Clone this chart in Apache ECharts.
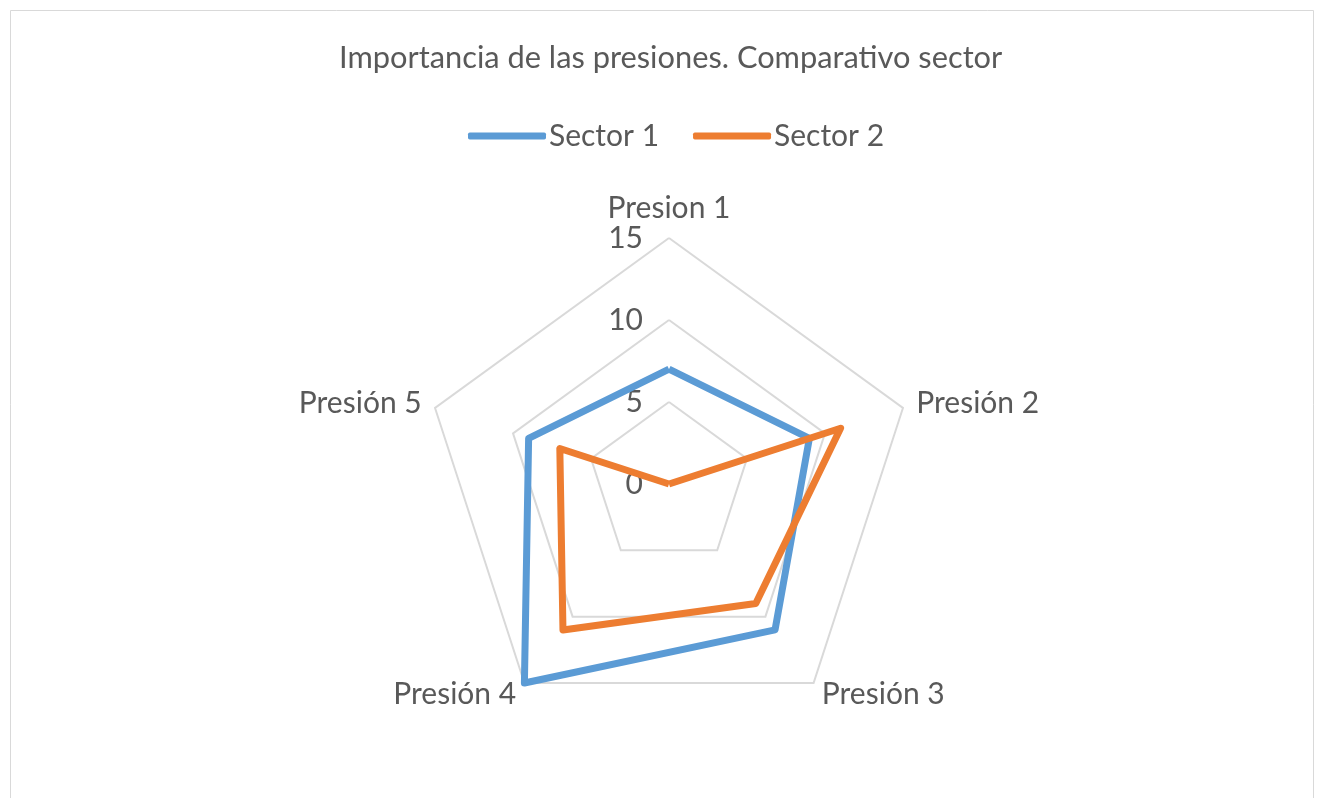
<!DOCTYPE html>
<html>
<head>
<meta charset="utf-8">
<script src="https://cdn.jsdelivr.net/npm/echarts@6/dist/echarts.min.js"></script>
<style>
  html, body { margin: 0; padding: 0; background: #fff; }
  #chart { width: 1318px; height: 798px; }
</style>
</head>
<body>
<div id="chart"></div>
<script>
// Pressure categories and importance scores per sector
const indicators = ['Presion 1', 'Presión 2', 'Presión 3', 'Presión 4', 'Presión 5'];
const sector1 = [7, 9, 11, 15, 9];
const sector2 = [0, 11, 9, 11, 7];
const seriesNames = ['Sector 1', 'Sector 2'];
const axisMax = 15;

// ECharts lays radar axes out counter-clockwise; walk the categories in
// reverse (after the first) so they run clockwise from the top.
const order = [0, 4, 3, 2, 1];
const pick = arr => order.map(i => arr[i]);

const FONT = 'Lato';
const TEXT = '#595959';
const SIZE = 30;

const chart = echarts.init(document.getElementById('chart'));

chart.setOption({
  backgroundColor: '#ffffff',
  animation: false,
  title: {
    text: 'Importancia de las presiones. Comparativo sector',
    left: 334,
    top: 38,
    textStyle: { fontFamily: FONT, fontSize: 30.8, fontWeight: 'normal', color: TEXT }
  },
  legend: {
    top: 116,
    left: 463,
    itemWidth: 78,
    itemHeight: 7,
    itemGap: 34,
    icon: 'roundRect',
    data: seriesNames,
    textStyle: { fontFamily: FONT, fontSize: SIZE, color: TEXT, padding: [0, 0, 0, -2] }
  },
  graphic: [{
    type: 'rect',
    shape: { x: 10.5, y: 10.5, width: 1303, height: 800 },
    style: { fill: 'none', stroke: '#d9d9d9', lineWidth: 1 },
    silent: true
  }],
  radar: {
    center: [669, 484],
    radius: 246,
    startAngle: 90,
    shape: 'polygon',
    splitNumber: 3,
    indicator: pick(indicators).map((name, i) => ({
      name: name,
      min: 0,
      max: axisMax,
      axisLabel: { show: i === 0 }
    })),
    nameGap: 14,
    axisName: { fontFamily: FONT, fontSize: SIZE, color: TEXT },
    axisLine: { show: false },
    axisTick: { show: false },
    axisLabel: {
      show: false,
      fontFamily: FONT,
      fontSize: SIZE,
      color: TEXT,
      margin: 26
    },
    splitLine: { lineStyle: { color: '#d9d9d9', width: 2 } },
    splitArea: { show: false }
  },
  series: [{
    type: 'radar',
    symbol: 'none',
    data: [
      { name: seriesNames[0], value: pick(sector1),
        itemStyle: { color: '#5b9bd5' },
        lineStyle: { color: '#5b9bd5', width: 7, join: 'round' } },
      { name: seriesNames[1], value: pick(sector2),
        itemStyle: { color: '#ed7d31' },
        lineStyle: { color: '#ed7d31', width: 7, join: 'round' } }
    ]
  }]
});
</script>
</body>
</html>
